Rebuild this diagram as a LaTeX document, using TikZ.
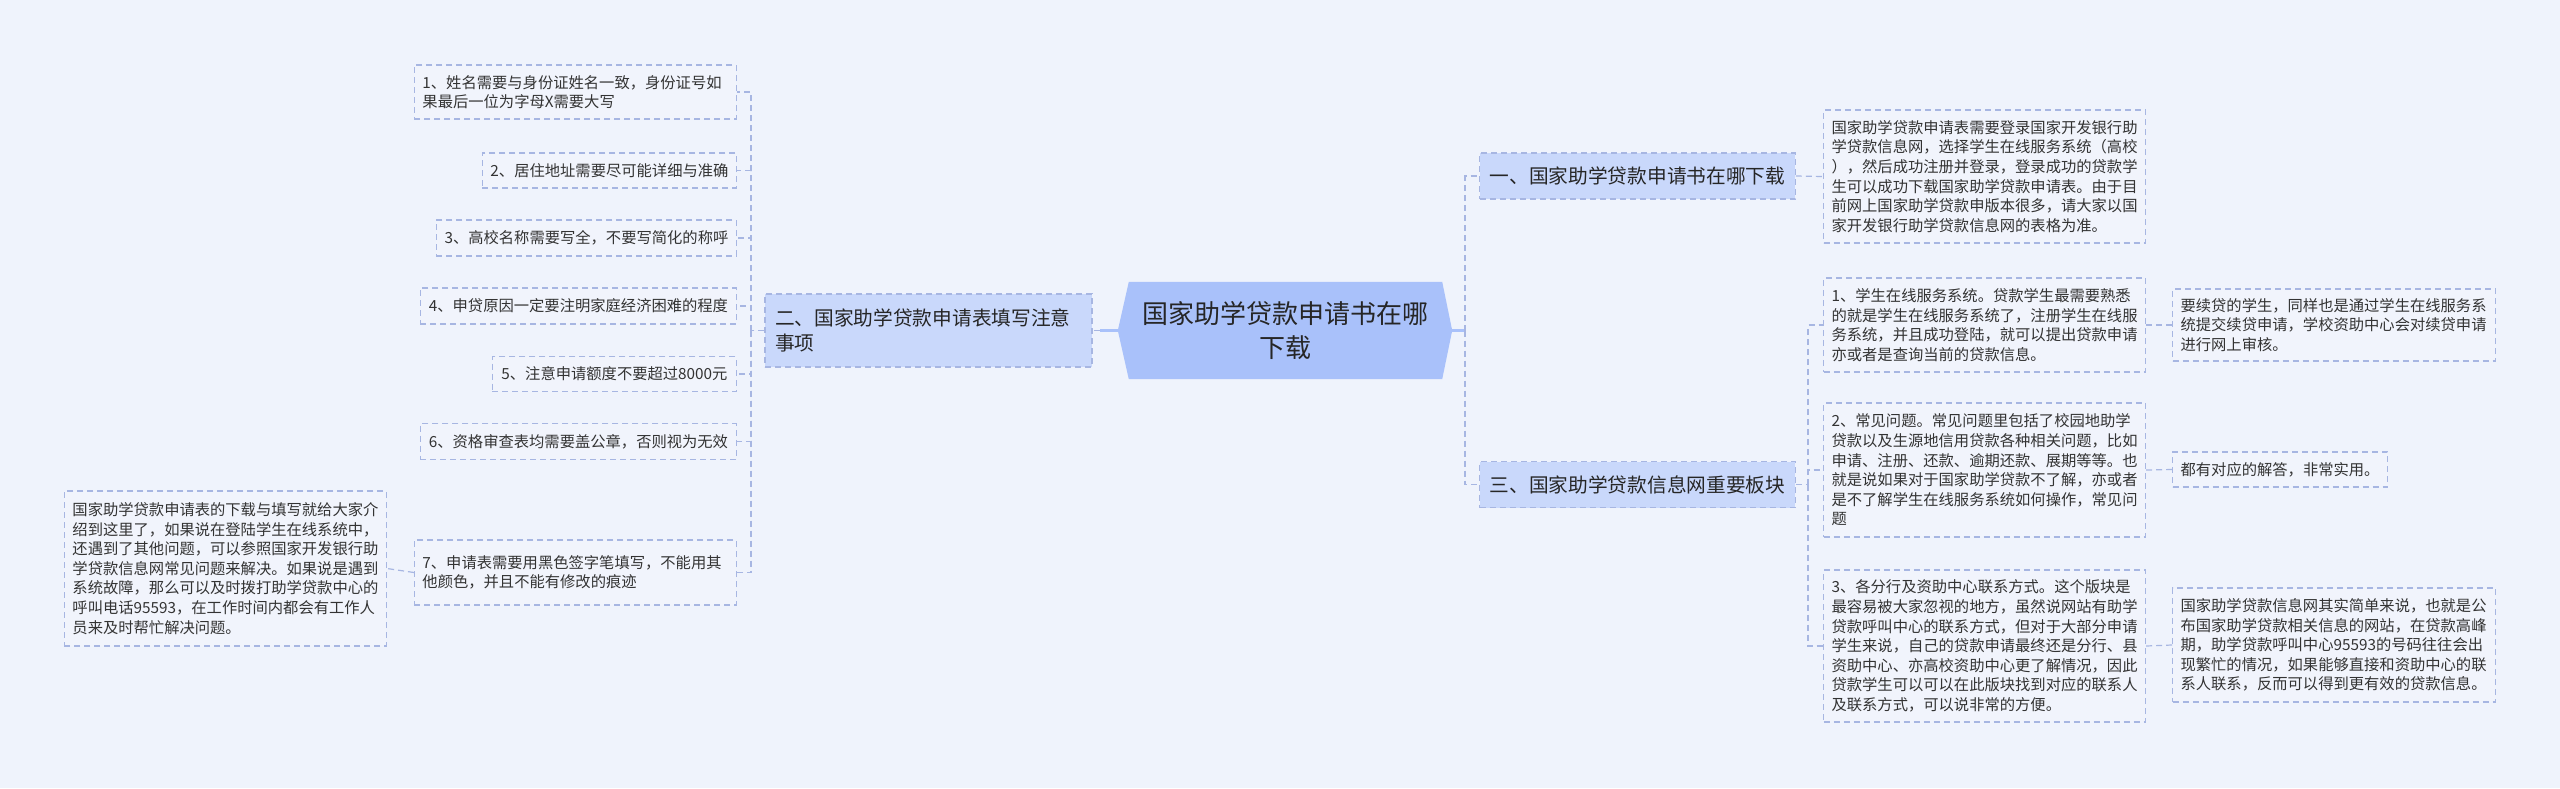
\documentclass[tikz,border=0pt]{standalone}
\usepackage{fontspec}
\setmainfont{Noto Sans CJK SC}
\usetikzlibrary{backgrounds,calc}
\definecolor{bgc}{HTML}{EFF3FC}
\definecolor{cfill}{HTML}{A9C1FA}
\definecolor{bfill}{HTML}{C9D8FB}
\definecolor{lfill}{HTML}{F1F4FC}
\definecolor{bord}{HTML}{A7B6E2}
\definecolor{txt}{HTML}{333333}
\begin{document}
\begin{tikzpicture}[x=1pt,y=-1pt,
  every node/.style={font=\fontsize{15.3}{19.6}\selectfont, text=txt, inner sep=0pt},
  leaf/.style={draw=bord, dash pattern=on 6pt off 4pt, line width=1.1pt, fill=lfill, align=left, inner xsep=8pt},
  branch/.style={draw=bord, dash pattern=on 6pt off 4pt, line width=1.1pt, fill=bfill, inner xsep=10pt, minimum height=46pt, font=\fontsize{19.7}{25.7}\selectfont, text=black!85},
  conn/.style={draw=bord, line width=1.2pt, dash pattern=on 6pt off 4pt},
  solidconn/.style={draw=cfill, line width=2.2pt}]
\useasboundingbox (0,0) rectangle (2560,788);
% center
\node[minimum width=334pt, minimum height=97pt, align=center, font=\fontsize{26}{34}\selectfont, text=black!85] (c) at (1285,330.5) {国家助学贷款申请书在哪\\下载};
\begin{scope}[on background layer]
\fill[bgc] (0,0) rectangle (2560,788);
\fill[cfill] ($(c.north west)+(11,0)$) -- ($(c.north east)+(-10,0)$) -- (c.east) -- ($(c.south east)+(-10,0)$) -- ($(c.south west)+(11,0)$) -- (c.west) -- cycle;
\end{scope}
% branches
\node[branch, minimum width=315pt] (b1) at (1637.5,176) {一、国家助学贷款申请书在哪下载};
\node[branch, minimum width=315pt] (b3) at (1637.5,484.5) {三、国家助学贷款信息网重要板块};
\node[branch, text width=307pt, minimum height=73pt, align=left] (b2) at (928.5,330.5) {二、国家助学贷款申请表填写注意\\事项};
% left leaves
\node[leaf, anchor=east, text width=306pt, minimum height=54pt] (l1) at (737,92) {1、姓名需要与身份证姓名一致，身份证号如\\果最后一位为字母X需要大写};
\node[leaf, anchor=east, minimum width=254pt, minimum height=35pt] (l2) at (737,170.5) {2、居住地址需要尽可能详细与准确};
\node[leaf, anchor=east, minimum width=300pt, minimum height=36pt] (l3) at (737,238) {3、高校名称需要写全，不要写简化的称呼};
\node[leaf, anchor=east, minimum width=316pt, minimum height=36pt] (l4) at (737,306) {4、申贷原因一定要注明家庭经济困难的程度};
\node[leaf, anchor=east, minimum width=244pt, minimum height=35pt] (l5) at (737,374) {5、注意申请额度不要超过8000元};
\node[leaf, anchor=east, minimum width=316pt, minimum height=36pt] (l6) at (737,441.5) {6、资格审查表均需要盖公章，否则视为无效};
\node[leaf, anchor=east, text width=306pt, minimum height=65pt] (l7) at (737,572.5) {7、申请表需要用黑色签字笔填写，不能用其\\他颜色，并且不能有修改的痕迹};
\node[leaf, anchor=east, text width=306pt, minimum height=155pt] (l7a) at (387,568.5) {国家助学贷款申请表的下载与填写就给大家介\\绍到这里了，如果说在登陆学生在线系统中，\\还遇到了其他问题，可以参照国家开发银行助\\学贷款信息网常见问题来解决。如果说是遇到\\系统故障，那么可以及时拨打助学贷款中心的\\呼叫电话95593，在工作时间内都会有工作人\\员来及时帮忙解决问题。};
% right leaves
\node[leaf, anchor=west, text width=306pt, minimum height=133pt] (r1) at (1823,176.5) {国家助学贷款申请表需要登录国家开发银行助\\学贷款信息网，选择学生在线服务系统（高校\\），然后成功注册并登录，登录成功的贷款学\\生可以成功下载国家助学贷款申请表。由于目\\前网上国家助学贷款申版本很多，请大家以国\\家开发银行助学贷款信息网的表格为准。};
\node[leaf, anchor=west, text width=306pt, minimum height=94pt] (r31) at (1823,325) {1、学生在线服务系统。贷款学生最需要熟悉\\的就是学生在线服务系统了，注册学生在线服\\务系统，并且成功登陆，就可以提出贷款申请\\亦或者是查询当前的贷款信息。};
\node[leaf, anchor=west, text width=306pt, minimum height=134pt] (r32) at (1823,470) {2、常见问题。常见问题里包括了校园地助学\\贷款以及生源地信用贷款各种相关问题，比如\\申请、注册、还款、逾期还款、展期等等。也\\就是说如果对于国家助学贷款不了解，亦或者\\是不了解学生在线服务系统如何操作，常见问\\题};
\node[leaf, anchor=west, text width=306pt, minimum height=152pt] (r33) at (1823,646) {3、各分行及资助中心联系方式。这个版块是\\最容易被大家忽视的地方，虽然说网站有助学\\贷款呼叫中心的联系方式，但对于大部分申请\\学生来说，自己的贷款申请最终还是分行、县\\资助中心、亦高校资助中心更了解情况，因此\\贷款学生可以可以在此版块找到对应的联系人\\及联系方式，可以说非常的方便。};
\node[leaf, anchor=west, text width=307pt, minimum height=72pt] (r31a) at (2172,325) {要续贷的学生，同样也是通过学生在线服务系\\统提交续贷申请，学校资助中心会对续贷申请\\进行网上审核。};
\node[leaf, anchor=west, minimum width=215pt, minimum height=35pt] (r32a) at (2172,469.5) {都有对应的解答，非常实用。};
\node[leaf, anchor=west, text width=307pt, minimum height=114pt] (r33a) at (2172,645) {国家助学贷款信息网其实简单来说，也就是公\\布国家助学贷款相关信息的网站，在贷款高峰\\期，助学贷款呼叫中心95593的号码往往会出\\现繁忙的情况，如果能够直接和资助中心的联\\系人联系，反而可以得到更有效的贷款信息。};
% junctions
\coordinate (rj) at (1465,330.5);
\coordinate (lj) at (1100,330.5);
\coordinate (lb) at (751,330.5);
\coordinate (r3j) at (1808,484.5);
% connectors
\begin{scope}[on background layer]
\draw[solidconn] (c.east) -- (rj);
\draw[solidconn] (c.west) -- (lj);
\end{scope}
\draw[conn] (rj) |- (b1.west);
\draw[conn] (rj) |- (b3.west);
\draw[conn] (lj) -- (b2.east);
\draw[conn] (b2.west) -- (lb);
\foreach \n in {l1,l2,l3,l4,l5,l6,l7} \draw[conn] (lb) |- (\n.east);
\draw[conn] (l7.west) -- (l7a.east);
\draw[conn] (b1.east) -- (r1.west);
\draw[conn] (b3.east) -- (r3j);
\foreach \n in {r31,r32,r33} \draw[conn] (r3j) |- (\n.west);
\draw[conn] (r31.east) -- (r31a.west);
\draw[conn] (r32.east) -- (r32a.west);
\draw[conn] (r33.east) -- (r33a.west);
\end{tikzpicture}
\end{document}
